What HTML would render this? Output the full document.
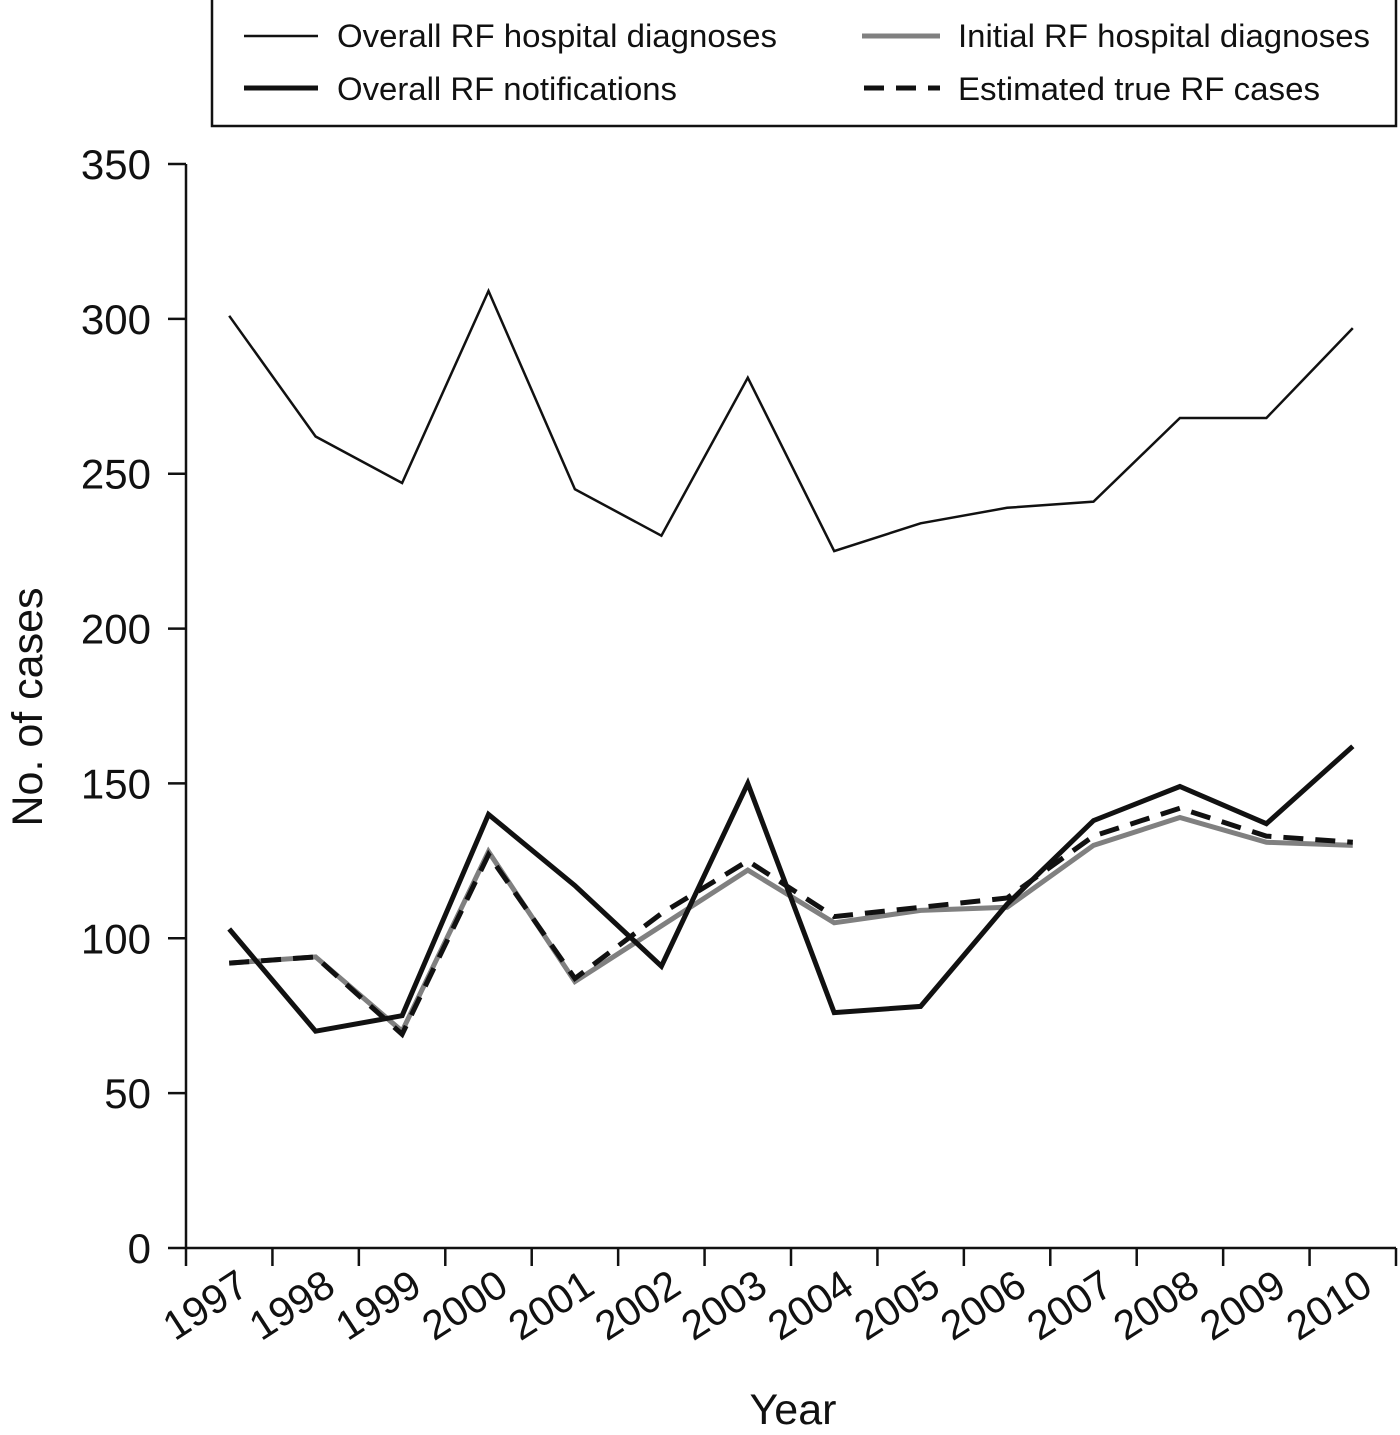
<!DOCTYPE html>
<html><head><meta charset="utf-8"><style>
html,body{margin:0;padding:0;background:#fff}
svg{display:block;font-family:"Liberation Sans",Arial,sans-serif}
</style></head><body>
<svg id="chart" width="1400" height="1435" viewBox="0 0 1400 1435">
<g id="legend">
<rect x="212" y="-2" width="1184" height="128" fill="#fff" stroke="#111" stroke-width="2.5"/>
<g><line x1="244" y1="36" x2="318" y2="36" stroke="#111" stroke-width="2.5"/><text x="337" y="47" font-size="32" textLength="440" lengthAdjust="spacingAndGlyphs" fill="#111">Overall RF hospital diagnoses</text></g>
<g><line x1="862" y1="36" x2="940" y2="36" stroke="#808080" stroke-width="5"/><text x="958" y="47" font-size="32" textLength="412" lengthAdjust="spacingAndGlyphs" fill="#111">Initial RF hospital diagnoses</text></g>
<g><line x1="244" y1="88" x2="318" y2="88" stroke="#111" stroke-width="5"/><text x="337" y="100" font-size="32" textLength="340" lengthAdjust="spacingAndGlyphs" fill="#111">Overall RF notifications</text></g>
<g><line x1="864" y1="88" x2="940" y2="88" stroke="#111" stroke-width="5" stroke-dasharray="20,12"/><text x="958" y="100" font-size="32" textLength="362" lengthAdjust="spacingAndGlyphs" fill="#111">Estimated true RF cases</text></g>
</g>
<g id="axes"></g>
<g id="series"></g>
<text x="793" y="1424" font-size="43" text-anchor="middle" fill="#111">Year</text>
<text transform="translate(42,707) rotate(-90)" font-size="43" text-anchor="middle" fill="#111">No. of cases</text>
</svg>
<script>
const years=["1997","1998","1999","2000","2001","2002","2003","2004","2005","2006","2007","2008","2009","2010"];
const overallHospital=[301,262,247,309,245,230,281,225,234,239,241,268,268,297];
const notifications=[103,70,75,140,117,91,150,76,78,111,138,149,137,162];
const initialHospital=[92,94,70,128,86,104,122,105,109,110,130,139,131,130];
const estimatedTrue=[92,94,69,127,87,108,125,107,110,113,133,142,133,131];
const yTicks=[0,50,100,150,200,250,300,350];
const NS="http://www.w3.org/2000/svg";
const x0=186,x1=1396,y0=1248,yTop=164;
const step=(x1-x0)/years.length;
const xS=i=>x0+step*(i+0.5);
const yS=v=>y0-(v/350)*(y0-yTop);
function mk(t,a,p){const e=document.createElementNS(NS,t);for(const k in a)e.setAttribute(k,a[k]);p.appendChild(e);return e;}
const ax=document.getElementById('axes');
let yl=mk('line',{x1:x0,y1:yTop,x2:x0,y2:y0,stroke:'#111','stroke-width':2.5},ax);


let xl=mk('line',{x1:x0,y1:y0,x2:x1,y2:y0,stroke:'#111','stroke-width':2.5},ax);


yTicks.forEach(v=>{
 mk('line',{x1:168,y1:yS(v),x2:x0,y2:yS(v),stroke:'#111','stroke-width':2.5},ax);
 const t=mk('text',{x:151,y:yS(v)+15,'font-size':42,'text-anchor':'end',fill:'#111'},ax);
 t.textContent=v;
 
 
});
for(let i=0;i<=years.length;i++){const x=x0+step*i;mk('line',{x1:x,y1:y0,x2:x,y2:y0+18,stroke:'#111','stroke-width':2.5},ax);}
years.forEach((y,i)=>{
 const x=xS(i)+22,yy=1292;
 const t=mk('text',{x:x,y:yy,'font-size':41,'text-anchor':'end',fill:'#111',transform:`rotate(-33 ${x} ${yy})`},ax);
 t.textContent=y;
 
 
});
const sg=document.getElementById('series');
function line(data,attrs,name){
 const d=data.map((v,i)=>(i?'L':'M')+xS(i).toFixed(1)+','+yS(v).toFixed(1)).join(' ');
 const p=mk('path',Object.assign({d:d,fill:'none','stroke-linejoin':'miter'},attrs),sg);
 
 
}
line(overallHospital,{stroke:'#111','stroke-width':2.5},'overall-hospital-line');
line(initialHospital,{stroke:'#808080','stroke-width':5},'initial-hospital-line');
line(estimatedTrue,{stroke:'#111','stroke-width':5,'stroke-dasharray':'20,12'},'estimated-true-line');
line(notifications,{stroke:'#111','stroke-width':5},'notifications-line');
</script>
</body></html>
